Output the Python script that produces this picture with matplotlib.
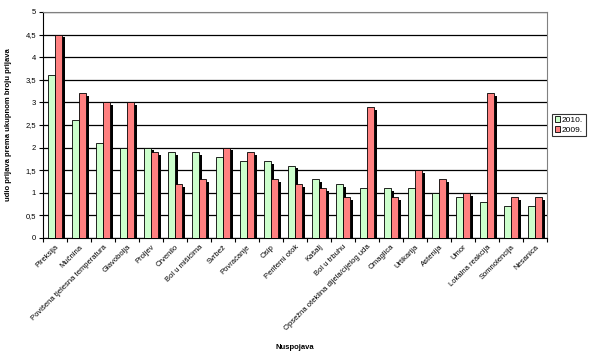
import matplotlib.pyplot as plt
import matplotlib.patheffects as pe
from matplotlib.patches import Patch
import numpy as np

plt.rcParams['font.family'] = ['Liberation Sans', 'DejaVu Sans']

kategorije = ['Pireksija', 'Mučnina', 'Povišena tjelesna temperatura', 'Glavobolja',
              'Proljev', 'Crvenilo', 'Bol u mišićima', 'Svrbež', 'Povraćanje', 'Osip',
              'Periferni otok', 'Kašalj', 'Bol u trbuhu', 'Opsežna oteklina dijela/cijelog uda',
              'Omaglica', 'Urtikarija', 'Astenija', 'Umor', 'Lokalna reakcija',
              'Somnolencija', 'Nesanica']
god_2010 = [3.6, 2.6, 2.1, 2.0, 2.0, 1.9, 1.9, 1.8, 1.7, 1.7, 1.6, 1.3, 1.2, 1.1,
            1.1, 1.1, 1.0, 0.9, 0.8, 0.7, 0.7]
god_2009 = [4.5, 3.2, 3.0, 3.0, 1.9, 1.2, 1.3, 2.0, 1.9, 1.3, 1.2, 1.1, 0.9, 2.9,
            0.9, 1.5, 1.3, 1.0, 3.2, 0.9, 0.9]

fig = plt.figure(figsize=(5.89, 3.57), dpi=100)
ax = fig.add_axes([43/589, 1 - 238/357, 504/589, 226/357])

x = np.arange(len(kategorije))
w = 0.3
sjena = [pe.SimplePatchShadow(offset=(2, -2), shadow_rgbFace='black', alpha=1), pe.Normal()]
ax.bar(x - w/2, god_2010, w, color='#CCFFCC', edgecolor='black', linewidth=0.6,
       zorder=3, path_effects=sjena)
ax.bar(x + w/2, god_2009, w, color='#FF8080', edgecolor='black', linewidth=0.6,
       zorder=3, path_effects=sjena)

ax.set_xlim(-0.5, len(kategorije) - 0.5)
ax.set_ylim(0, 5)
ax.set_yticks(np.arange(0, 5.01, 0.5))
ax.set_yticklabels([f'{v:g}'.replace('.', ',') for v in np.arange(0, 5.01, 0.5)], fontsize=5.5)
ax.yaxis.grid(True, color='black', linewidth=0.9, zorder=0)
ax.set_axisbelow(True)

ax.set_xticks(x)
ax.set_xticklabels(kategorije, rotation=45, ha='right', rotation_mode='anchor', fontsize=5.5)
ax.set_xticks(np.arange(-0.5, len(kategorije)), minor=True)
ax.tick_params(axis='x', which='major', length=0, pad=4)
ax.tick_params(axis='x', which='minor', length=3, width=0.8, direction='out')
ax.tick_params(axis='y', length=3, width=0.8, direction='out', pad=2)

for s in ['top', 'right']:
    ax.spines[s].set_color('#808080')
for s in ['left', 'bottom']:
    ax.spines[s].set_color('black')

ax.set_xlabel('Nuspojava', fontsize=5.5, fontweight='bold', labelpad=4)
ax.set_ylabel('udio prijava prema ukupnom broju prijava', fontsize=5.5, fontweight='bold', labelpad=10)
ax.xaxis.set_label_coords(0.5, -0.47)

ruke = [Patch(facecolor='#CCFFCC', edgecolor='black', linewidth=0.6, label='2010.'),
        Patch(facecolor='#FF8080', edgecolor='black', linewidth=0.6, label='2009.')]
leg = ax.legend(handles=ruke, loc='center left', bbox_to_anchor=(1.01, 0.5), fontsize=6,
                frameon=True, fancybox=False, edgecolor='black', handlelength=0.7,
                handleheight=0.7, handletextpad=0.2, borderpad=0.3, labelspacing=0.2,
                borderaxespad=0)
leg.get_frame().set_linewidth(0.8)

fig.savefig('out.png', dpi=100)
